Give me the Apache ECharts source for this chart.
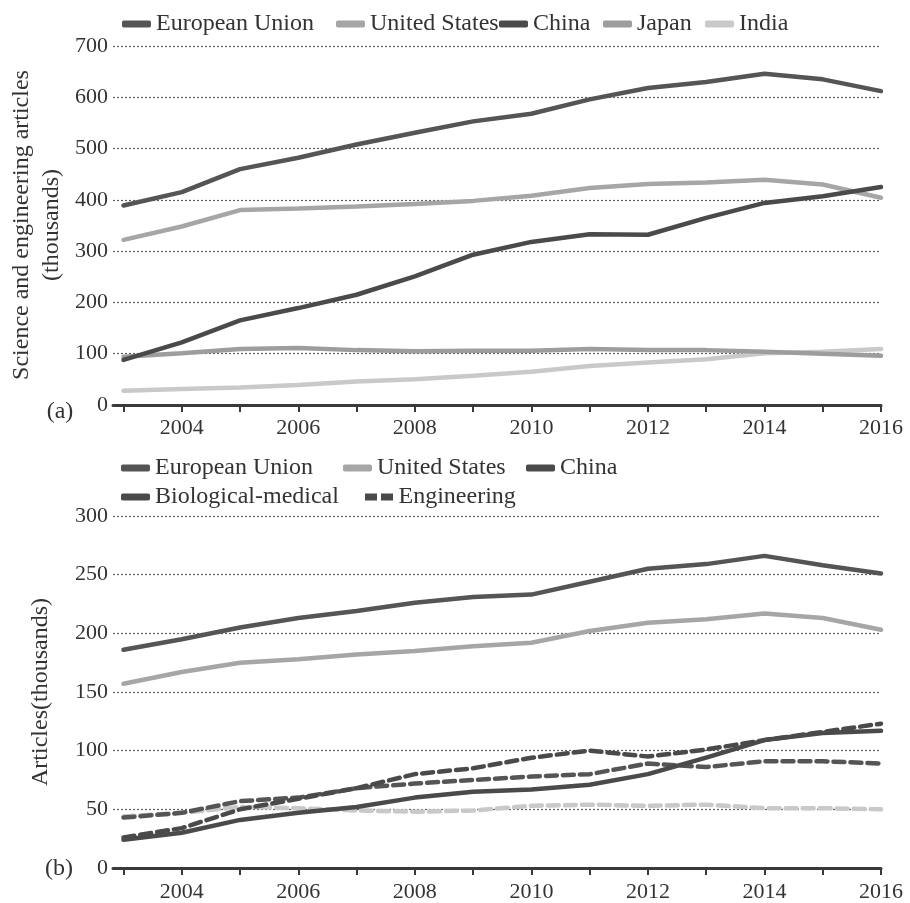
<!DOCTYPE html>
<html>
<head>
<meta charset="utf-8">
<script src="https://cdn.jsdelivr.net/npm/echarts@6/dist/echarts.min.js"></script>
<style>
html,body{margin:0;padding:0;background:#fff;}
#chart{width:910px;height:903px;}
</style>
</head>
<body>
<div id="chart"></div>
<script>
// ---- data ----
const years = [2003,2004,2005,2006,2007,2008,2009,2010,2011,2012,2013,2014,2015,2016];
const labelYears = [2004,2006,2008,2010,2012,2014,2016];

// (a) Science and engineering articles (thousands)
const euTotal    = [389,415,460,482,508,531,553,568,596,618,630,646,635,612];
const usTotal    = [322,348,380,383,387,392,398,408,423,431,434,439,430,404];
const chinaTotal = [88,122,165,189,215,251,293,318,333,332,365,394,407,425];
const japanTotal = [94,101,109,111,107,105,106,106,109,107,107,104,100,96];
const indiaTotal = [28,31,34,39,46,50,57,65,76,83,89,101,104,109];

// (b) Articles (thousands) by field
const euBio    = [186,195,205,213,219,226,231,233,244,255,259,266,258,251];
const usBio    = [157,167,175,178,182,185,189,192,202,209,212,217,213,203];
const chinaBio = [24,30,41,47,52,60,65,67,71,80,94,109,115,117];
const euEng    = [43,47,57,60,68,72,75,78,80,89,86,91,91,89];
const usEng    = [44,47,52,51,49,48,49,53,54,53,54,51,51,50];
const chinaEng = [26,34,50,59,68,80,85,94,100,95,101,109,116,123];

const topLegendNames = ['European Union','United States','China','Japan','India'];
const bottomLegendRow1 = ['European Union','United States','China'];
const bottomLegendRow2 = ['Biological-medical','Engineering'];

// ---- styles ----
const FONT = "'Liberation Serif','Times New Roman',serif";
const TXT = '#333';
const DARK = '#555555';
const DARK2 = '#4a4a4a';
const MID = '#a6a6a6';
const JAP = '#9d9d9d';
const LIGHT = '#c9c9c9';

function pairs(arr){ return years.map((y,i)=>[y, arr[i]]); }

function xAxisCfg(gi, margin){
  return {
    type:'value', gridIndex:gi, min:2002.82, max:2016,
    axisLine:{show:true, onZero:false, lineStyle:{color:'#3a3a3a', width:3}},
    axisTick:{show:true, customValues:years, length:7, lineStyle:{color:'#3a3a3a', width:2}},
    axisLabel:{customValues:labelYears, margin:margin, fontFamily:FONT, fontSize:22, color:TXT,
               formatter:v=>String(Math.round(v))},
    splitLine:{show:false}
  };
}
function yAxisCfg(gi, max, interval){
  return {
    type:'value', gridIndex:gi, min:0, max:max, interval:interval,
    axisLine:{show:false}, axisTick:{show:false},
    axisLabel:{margin:5, fontFamily:FONT, fontSize:22, color:TXT},
    splitLine:{show:true, lineStyle:{type:[2,2], color:'#5e5e5e', width:1.2}}
  };
}
function line(name, arr, color, gi, dashed, z){
  return {
    type:'line', name:name, xAxisIndex:gi, yAxisIndex:gi, data:pairs(arr),
    symbol:'none', silent:true, z:z||2,
    lineStyle:{color:color, width:4.5, type: dashed ? [11,6] : 'solid', cap:'round'},
    itemStyle:{color:color}
  };
}
function legend(name, left, top, icon){
  return {
    data:[{name:name, icon: icon || 'roundRect'}],
    left:left, top:top, padding:0, itemWidth:29, itemHeight:7, selectedMode:false,
    textStyle:{fontFamily:FONT, fontSize:24, color:TXT}
  };
}
const dashIcon = 'path://M0,0 L12,0 L12,7 L0,7 Z M16,0 L28,0 L28,7 L16,7 Z';

const option = {
  backgroundColor:'#ffffff',
  animation:false,
  grid:[
    {left:113, right:29, top:46, height:359},
    {left:113, right:29, top:516, height:352}
  ],
  xAxis:[ xAxisCfg(0, 12), xAxisCfg(1, 13) ],
  yAxis:[ yAxisCfg(0, 700, 100), yAxisCfg(1, 300, 50) ],
  legend:[
    legend(topLegendNames[0], 122, 12),
    legend(topLegendNames[1], 336, 12),
    legend(topLegendNames[2], 499, 12),
    legend(topLegendNames[3], 603, 12),
    legend(topLegendNames[4], 705, 12),
    legend(bottomLegendRow1[0], 121, 456),
    legend(bottomLegendRow1[1], 343, 456),
    legend(bottomLegendRow1[2], 526, 456),
    legend(bottomLegendRow2[0], 121, 485),
    legend(bottomLegendRow2[1], 365, 485, dashIcon)
  ],
  graphic:[
    {type:'text', x:22, y:225, rotation:Math.PI/2,
     style:{text:'Science and engineering articles', font:"24px "+FONT, fill:TXT, align:'center', verticalAlign:'middle'}},
    {type:'text', x:52, y:225, rotation:Math.PI/2,
     style:{text:'(thousands)', font:"24px "+FONT, fill:TXT, align:'center', verticalAlign:'middle'}},
    {type:'text', x:41, y:692, rotation:Math.PI/2,
     style:{text:'Articles(thousands)', font:"24px "+FONT, fill:TXT, align:'center', verticalAlign:'middle'}},
    {type:'text', x:60, y:412,
     style:{text:'(a)', font:"24px "+FONT, fill:TXT, align:'center', verticalAlign:'middle'}},
    {type:'text', x:59, y:869,
     style:{text:'(b)', font:"24px "+FONT, fill:TXT, align:'center', verticalAlign:'middle'}}
  ],
  series:[
    line('India', indiaTotal, LIGHT, 0, false, 2),
    line('Japan', japanTotal, JAP, 0, false, 2),
    line('United States', usTotal, MID, 0, false, 2),
    line('China', chinaTotal, DARK2, 0, false, 3),
    line('European Union', euTotal, DARK, 0, false, 3),

    line('US Engineering', usEng, LIGHT, 1, true, 2),
    line('EU Engineering', euEng, DARK, 1, true, 3),
    line('China Engineering', chinaEng, DARK2, 1, true, 3),
    line('United States', usBio, MID, 1, false, 2),
    line('China', chinaBio, DARK2, 1, false, 3),
    line('European Union', euBio, DARK, 1, false, 3),
    {type:'line', name:'Biological-medical', xAxisIndex:1, yAxisIndex:1, data:[], symbol:'none',
     lineStyle:{color:DARK2, width:4}, itemStyle:{color:DARK2}},
    {type:'line', name:'Engineering', xAxisIndex:1, yAxisIndex:1, data:[], symbol:'none',
     lineStyle:{color:DARK2, width:4, type:'dashed'}, itemStyle:{color:DARK2}}
  ]
};

const chart = echarts.init(document.getElementById('chart'), null, {renderer:'canvas'});
chart.setOption(option);
</script>
</body>
</html>
